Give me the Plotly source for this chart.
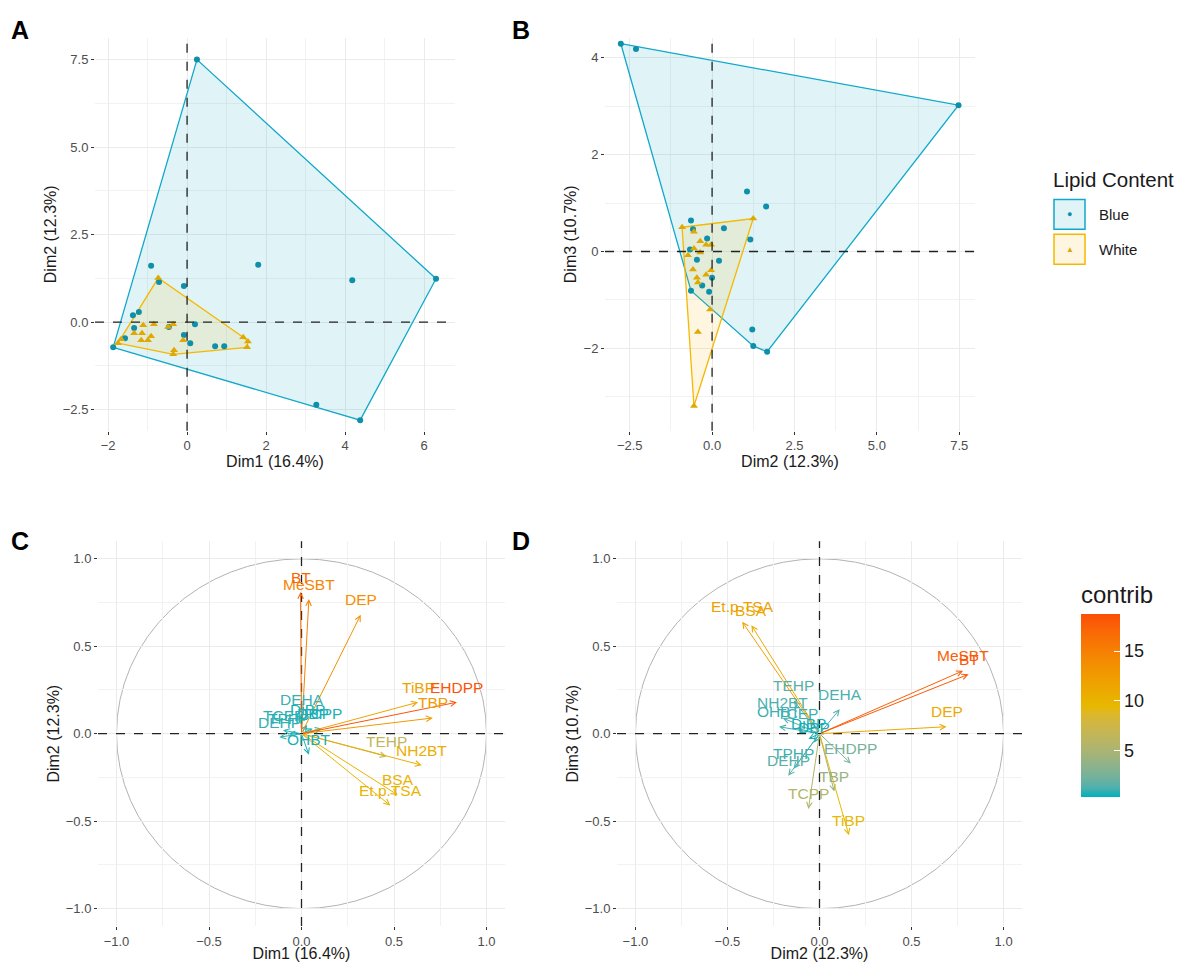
import plotly.graph_objects as go
from plotly.colors import sample_colorscale

# ---------------- Data ----------------
# Panel A: individuals on Dim1 / Dim2
a_blue_x = [0.25, 6.3, 4.38, 4.18, 3.27, 1.8, -0.91, -0.71, -0.08, -1.37, -1.22, -0.46, 0.2,
            -1.34, -1.57, -0.08, 0.08, 0.71, 0.94, -1.87]
a_blue_y = [7.5, 1.24, -2.8, 1.2, -2.36, 1.64, 1.61, 1.15, 1.03, 0.2, 0.29, -0.14, -0.06,
            -0.17, -0.46, -0.37, -0.6, -0.69, -0.69, -0.72]
a_white_x = [-0.73, -1.67, -1.75, -1.11, -0.84, -0.35, -1.34, -1.14, -0.91, -1.16, -0.99, -0.1,
             -0.48, -0.33, -0.35, 1.42, 1.54, 1.52]
a_white_y = [1.26, -0.49, -0.6, -0.09, -0.06, -0.06, -0.32, -0.32, -0.4, -0.52, -0.52, -0.52,
             -0.14, -0.8, -0.92, -0.43, -0.55, -0.72]

# Panel B: individuals on Dim2 / Dim3
b_blue_x = [-2.77, -2.31, 7.48, 1.06, 1.64, -0.64, -0.58, 0.36, -0.15, 1.16, -0.67, -0.46, 0.21,
            0.0, -0.3, -0.09, -0.64, 1.22, 1.25, 1.67]
b_blue_y = [4.29, 4.18, 3.02, 1.24, 0.93, 0.64, 0.46, 0.48, 0.27, 0.25, 0.04, -0.17, -0.19,
            -0.54, -0.7, -0.83, -0.81, -1.61, -1.95, -2.07]
b_white_x = [-0.91, -0.55, -0.36, -0.18, -0.03, -0.55, -0.36, -0.73, -0.58, -0.03, -0.18, -0.46,
             -0.43, 1.25, -0.06, -0.43, -0.55]
b_white_y = [0.5, 0.41, 0.21, 0.14, 0.14, 0.06, -0.02, -0.08, -0.37, -0.39, -0.48, -0.54,
             -0.64, 0.68, -1.2, -1.66, -3.19]

# Panels C / D: variables
var_names = ["BT", "MeSBT", "DEP", "EHDPP", "TiBP", "TBP", "TEHP", "NH2BT", "BSA", "Et.p.TSA",
             "DEHA", "OHBT", "TCEP", "TCPP", "DiBP", "DBP", "DEHP", "TPHP"]
c_dim1 = [-0.005, 0.04, 0.32, 0.84, 0.63, 0.71, 0.46, 0.65, 0.52, 0.48,
          0.0, 0.04, -0.1, 0.11, 0.03, 0.06, -0.12, -0.07]
c_dim2 = [0.81, 0.77, 0.68, 0.18, 0.18, 0.09, -0.13, -0.18, -0.35, -0.41,
          0.11, -0.12, 0.02, 0.03, 0.05, 0.03, -0.02, 0.0]
c_contrib = [17.0, 14.5, 13.5, 18.3, 11.5, 12.5, 6.5, 10.5, 10.0, 10.0,
             1.0, 0.6, 0.8, 0.7, 0.5, 0.5, 0.9, 0.6]
d_dim2 = [0.81, 0.78, 0.69, 0.17, 0.16, 0.08, -0.14, -0.2, -0.37, -0.42,
          0.11, -0.22, -0.12, -0.06, -0.06, -0.03, -0.17, -0.14]
d_dim3 = [0.34, 0.36, 0.04, -0.17, -0.58, -0.33, 0.19, 0.09, 0.62, 0.64,
          0.14, 0.04, 0.03, -0.43, -0.03, -0.05, -0.24, -0.2]
d_contrib = [18.0, 17.5, 11.0, 2.5, 9.5, 4.0, 1.5, 1.2, 11.0, 12.0,
             1.2, 1.0, 1.0, 5.5, 0.5, 0.5, 1.5, 1.0]

contrib_min, contrib_max = 0.3, 18.7
grad_low, grad_mid, grad_high = "#00AFBB", "#E7B800", "#FC4E07"

BLUE_LINE = "#11A8C9"
BLUE_PT = "#0E8FAA"
BLUE_FILL = "rgba(17,168,201,0.13)"
GOLD_LINE = "#F5B800"
GOLD_PT = "#E0A800"
GOLD_FILL = "rgba(245,184,0,0.12)"
FONT = "Arial, Liberation Sans, sans-serif"

# page geometry (the html body has an 8px margin)
OFF = 8
W, H = 1182 - 2 * OFF, 970 - 2 * OFF


def PX(px):
    return (px - OFF) / W


def PY(py):
    return 1 - (py - OFF) / H


# ---------- Lab interpolation for the gradient (like ggplot) ----------
def _hex2rgb(h):
    h = h.lstrip("#")
    return [int(h[i:i + 2], 16) / 255 for i in (0, 2, 4)]


def _lin(c):
    return c / 12.92 if c <= 0.04045 else ((c + 0.055) / 1.055) ** 2.4


def _delin(c):
    c = max(0.0, min(1.0, c))
    return 12.92 * c if c <= 0.0031308 else 1.055 * c ** (1 / 2.4) - 0.055


def rgb2lab(h):
    r, g, b = [_lin(c) for c in _hex2rgb(h)]
    X = (0.4124 * r + 0.3576 * g + 0.1805 * b) / 0.95047
    Y = (0.2126 * r + 0.7152 * g + 0.0722 * b)
    Z = (0.0193 * r + 0.1192 * g + 0.9505 * b) / 1.08883
    f = lambda t: t ** (1 / 3) if t > 0.008856 else 7.787 * t + 16 / 116
    fx, fy, fz = f(X), f(Y), f(Z)
    return [116 * fy - 16, 500 * (fx - fy), 200 * (fy - fz)]


def lab2rgb(L, a, b):
    fy = (L + 16) / 116
    fx = fy + a / 500
    fz = fy - b / 200
    g = lambda t: t ** 3 if t ** 3 > 0.008856 else (t - 16 / 116) / 7.787
    X, Y, Z = g(fx) * 0.95047, g(fy), g(fz) * 1.08883
    r = 3.2406 * X - 1.5372 * Y - 0.4986 * Z
    gg = -0.9689 * X + 1.8758 * Y + 0.0415 * Z
    bb = 0.0557 * X - 0.2040 * Y + 1.0570 * Z
    return "rgb(%d,%d,%d)" % tuple(round(_delin(c) * 255) for c in (r, gg, bb))


def build_scale(n=10):
    l0, l1, l2 = rgb2lab(grad_low), rgb2lab(grad_mid), rgb2lab(grad_high)
    stops = []
    for i in range(n + 1):
        t = i / n
        if t <= 0.5:
            u = t / 0.5
            c = [l0[k] + (l1[k] - l0[k]) * u for k in range(3)]
        else:
            u = (t - 0.5) / 0.5
            c = [l1[k] + (l2[k] - l1[k]) * u for k in range(3)]
        stops.append([t, lab2rgb(*c)])
    return stops


colorscale = build_scale(20)


def hull(xs, ys):
    pts = sorted(set(zip(xs, ys)))

    def cross(o, a, b):
        return (a[0] - o[0]) * (b[1] - o[1]) - (a[1] - o[1]) * (b[0] - o[0])

    lower, upper = [], []
    for p in pts:
        while len(lower) >= 2 and cross(lower[-2], lower[-1], p) <= 0:
            lower.pop()
        lower.append(p)
    for p in reversed(pts):
        while len(upper) >= 2 and cross(upper[-2], upper[-1], p) <= 0:
            upper.pop()
        upper.append(p)
    h = lower[:-1] + upper[:-1]
    return h + [h[0]]


fig = go.Figure()


def add_hull(xs, ys, xa, ya, line, fill):
    h = hull(xs, ys)
    fig.add_trace(go.Scatter(x=[p[0] for p in h], y=[p[1] for p in h], xaxis=xa, yaxis=ya,
                             mode="lines", fill="toself", fillcolor=fill,
                             line=dict(color=line, width=1.3), hoverinfo="skip", showlegend=False))


def add_pts(xs, ys, xa, ya, pt, symbol, size):
    fig.add_trace(go.Scatter(x=xs, y=ys, xaxis=xa, yaxis=ya, mode="markers",
                             marker=dict(color=pt, size=size, symbol=symbol, line=dict(width=0)),
                             showlegend=False))


for xa, ya, bx, by, wx, wy in [("x", "y", a_blue_x, a_blue_y, a_white_x, a_white_y),
                               ("x2", "y2", b_blue_x, b_blue_y, b_white_x, b_white_y)]:
    add_hull(bx, by, xa, ya, BLUE_LINE, BLUE_FILL)
    add_hull(wx, wy, xa, ya, GOLD_LINE, GOLD_FILL)
    add_pts(bx, by, xa, ya, BLUE_PT, "circle", 6)
    add_pts(wx, wy, xa, ya, GOLD_PT, "triangle-up", 7)

annotations = []
shapes = []


def frac(v):
    return min(max((v - contrib_min) / (contrib_max - contrib_min), 0), 1)


for xa, ya, vx, vy, vc in [("x3", "y3", c_dim1, c_dim2, c_contrib),
                           ("x4", "y4", d_dim2, d_dim3, d_contrib)]:
    cols = sample_colorscale(colorscale, [frac(v) for v in vc])
    shapes.append(dict(type="circle", xref=xa, yref=ya, x0=-1, x1=1, y0=-1, y1=1,
                       line=dict(color="#B3B3B3", width=1), layer="below"))
    order = sorted(range(len(vc)), key=lambda i: vc[i])
    for i in order:
        annotations.append(dict(x=vx[i], y=vy[i], ax=0, ay=0, xref=xa, yref=ya, axref=xa, ayref=ya,
                                showarrow=True, arrowhead=5, arrowsize=1.1, arrowwidth=1,
                                arrowcolor=cols[i], text=""))
    for i in order:
        annotations.append(dict(x=vx[i], y=vy[i], xref=xa, yref=ya, text=var_names[i],
                                showarrow=False, yshift=15, xanchor="center", yanchor="middle",
                                font=dict(family=FONT, size=15.5, color=cols[i])))
    fig.add_trace(go.Scatter(x=vx, y=vy, xaxis=xa, yaxis=ya, mode="markers",
                             marker=dict(color=vc, coloraxis="coloraxis", size=2, opacity=0),
                             hoverinfo="skip", showlegend=False))

# dashed zero lines
for xa, ya in [("x", "y"), ("x2", "y2"), ("x3", "y3"), ("x4", "y4")]:
    shapes.append(dict(type="line", xref=xa, yref=ya + " domain", x0=0, x1=0, y0=0, y1=1,
                       line=dict(color="#222", width=1.3, dash="dash")))
    shapes.append(dict(type="line", xref=xa + " domain", yref=ya, x0=0, x1=1, y0=0, y1=0,
                       line=dict(color="#222", width=1.3, dash="dash")))

# panel letters
for txt, px, py in [("A", 20, 30), ("B", 521, 30), ("C", 20, 543), ("D", 521, 543)]:
    annotations.append(dict(text="<b>%s</b>" % txt, x=PX(px), y=PY(py), xref="paper", yref="paper",
                            xanchor="center", yanchor="middle", showarrow=False,
                            font=dict(family=FONT, size=25, color="black")))

# Lipid Content legend (drawn manually)
annotations.append(dict(text="Lipid Content", x=PX(1051), y=PY(180), xref="paper", yref="paper",
                        xanchor="left", yanchor="middle", showarrow=False,
                        font=dict(family=FONT, size=20.5, color="#1a1a1a")))
for lab, yc, line, fill, pt, sym, fs in [("Blue", 215, BLUE_LINE, BLUE_FILL, BLUE_PT, "●", 9),
                                         ("White", 250, GOLD_LINE, GOLD_FILL, GOLD_PT, "▲", 8)]:
    shapes.append(dict(type="rect", xref="paper", yref="paper", x0=PX(1054), x1=PX(1085),
                       y0=PY(yc + 15), y1=PY(yc - 15),
                       line=dict(color=line, width=1.5), fillcolor=fill))
    annotations.append(dict(text=sym, x=PX(1069.5), y=PY(yc), xref="paper", yref="paper",
                            xanchor="center", yanchor="middle",
                            showarrow=False, font=dict(size=fs, color=pt)))
    annotations.append(dict(text=lab, x=PX(1097), y=PY(yc), xref="paper", yref="paper",
                            xanchor="left", yanchor="middle", showarrow=False,
                            font=dict(family=FONT, size=15, color="#1a1a1a")))


def ax(domain, rng, dtick, fmt, title):
    return dict(domain=domain, range=rng, dtick=dtick, tick0=0, tickformat=fmt,
                showgrid=True, gridcolor="#EBEBEB", gridwidth=1.1, zeroline=False,
                ticks="outside", ticklen=3, tickcolor="#333", tickwidth=1,
                tickfont=dict(family=FONT, size=13, color="#4D4D4D"),
                minor=dict(dtick=dtick / 2, tick0=0, showgrid=True, gridcolor="#F2F2F2", gridwidth=0.6),
                title=dict(text=title, font=dict(family=FONT, size=16, color="#1a1a1a"), standoff=2),
                showline=False, mirror=False, fixedrange=True)


yA = [PY(432), PY(38)]
yC = [PY(929), PY(543)]
layout = dict(
    width=W, height=H, margin=dict(l=0, r=0, t=0, b=0),
    paper_bgcolor="white", plot_bgcolor="white", showlegend=False,
    font=dict(family=FONT),
    xaxis=dict(ax([PX(95), PX(455)], [-2.33, 6.78], 2, "d", "Dim1 (16.4%)"), anchor="y"),
    yaxis=dict(ax(yA, [-3.1, 8.12], 2.5, ".1f", "Dim2 (12.3%)"), anchor="x"),
    xaxis2=dict(ax([PX(605), PX(975)], [-3.25, 7.98], 2.5, ".1f", "Dim2 (12.3%)"), anchor="y2"),
    yaxis2=dict(ax(yA, [-3.7, 4.41], 2, "d", "Dim3 (10.7%)"), anchor="x2"),
    xaxis3=dict(ax([PX(98), PX(505)], [-1.1, 1.1], 0.5, ".1f", "Dim1 (16.4%)"), anchor="y3"),
    yaxis3=dict(ax(yC, [-1.1, 1.1], 0.5, ".1f", "Dim2 (12.3%)"), anchor="x3"),
    xaxis4=dict(ax([PX(617), PX(1022)], [-1.1, 1.1], 0.5, ".1f", "Dim2 (12.3%)"), anchor="y4"),
    yaxis4=dict(ax(yC, [-1.1, 1.1], 0.5, ".1f", "Dim3 (10.7%)"), anchor="x4"),
    coloraxis=dict(colorscale=colorscale, cmin=contrib_min, cmax=contrib_max,
                   colorbar=dict(title=dict(text="contrib", side="top",
                                            font=dict(family=FONT, size=24, color="#1a1a1a")),
                                 x=PX(1081), xanchor="left", xpad=0, ypad=0,
                                 y=PY(692), yanchor="middle",
                                 len=216 / H, lenmode="fraction", thickness=39, outlinewidth=0,
                                 tickvals=[5, 10, 15], ticks="inside", ticklen=6, tickcolor="white",
                                 tickfont=dict(family=FONT, size=18, color="#1a1a1a"))),
    annotations=annotations, shapes=shapes,
)
fig.update_layout(**layout)
fig.write_html("out.html")
